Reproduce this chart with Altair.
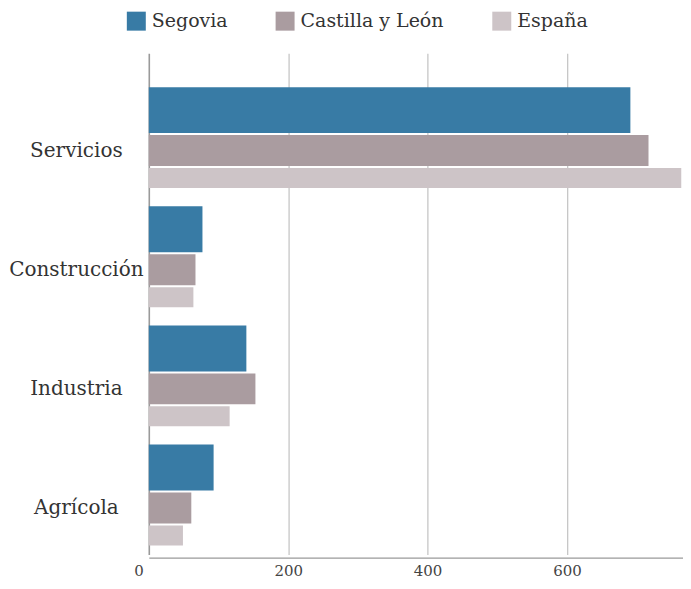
import altair as alt
import pandas as pd

categories = ["Servicios", "Construcción", "Industria", "Agrícola"]
series = ["Segovia", "Castilla y León", "España"]
segovia = [691, 77, 140, 93]
castilla_leon = [717, 67, 153, 61]
espana = [764, 64, 116, 49]
colors = ["#387ba5", "#aa9ca0", "#cdc4c7"]
ticks = [0, 200, 400, 600]

values = {"Segovia": segovia, "Castilla y León": castilla_leon, "España": espana}
rows = []
for s in series:
    for c, v in zip(categories, values[s]):
        rows.append({"categoria": c, "serie": s, "valor": v})
df = pd.DataFrame(rows)

FONT = "DejaVu Serif"

y = alt.Y(
    "categoria:N",
    sort=categories,
    title=None,
    scale=alt.Scale(paddingInner=0, paddingOuter=0.1034, align=1),
    axis=alt.Axis(
        grid=False, domain=False, ticks=False,
        labelAlign="center", labelBaseline="middle",
        labelPadding=73, labelOffset=13,
        labelFont=FONT, labelFontSize=20, labelColor="#333333",
    ),
)
x = alt.X(
    "valor:Q",
    title=None,
    scale=alt.Scale(domain=[0, 766.5], nice=False, zero=True),
    axis=alt.Axis(
        values=ticks, grid=True, ticks=False, offset=3,
        gridColor={"condition": {"test": "datum.value === 0", "value": "#9a9a9a"}, "value": "#c6c6c6"},
        gridWidth={"condition": {"test": "datum.value === 0", "value": 1.6}, "value": 1.3},
        domainColor="#9a9a9a", domainWidth=1.3,
        labelOffset={"condition": {"test": "datum.value === 0", "value": -15}, "value": 0},
        labelFont=FONT, labelFontSize=15, labelColor="#444444", labelPadding=6,
    ),
)
color = alt.Color(
    "serie:N",
    scale=alt.Scale(domain=series, range=colors),
    legend=alt.Legend(
        title=None, orient="none", legendX=-22, legendY=-42,
        direction="horizontal", symbolType="square", symbolSize=361,
        symbolStrokeWidth=0, labelFont=FONT, labelFontSize=19,
        labelColor="#333333", columnPadding=48, labelOffset=6, padding=0,
    ),
)

styles = {"Segovia": (46, -27.5), "Castilla y León": (31, 13), "España": (20, 40.5)}
layers = []
for s in series:
    h, o = styles[s]
    layers.append(
        alt.Chart(df)
        .transform_filter(alt.datum.serie == s)
        .mark_bar(height=h, yOffset=o)
        .encode(x=x, y=y, color=color)
    )

chart = (
    alt.layer(*layers)
    .properties(width=535, height=502, padding={"left": 0, "top": 3, "right": 0, "bottom": 0})
    .configure_view(stroke=None)
)

chart.save("out.html", embed_options={"renderer": "svg", "actions": False})
